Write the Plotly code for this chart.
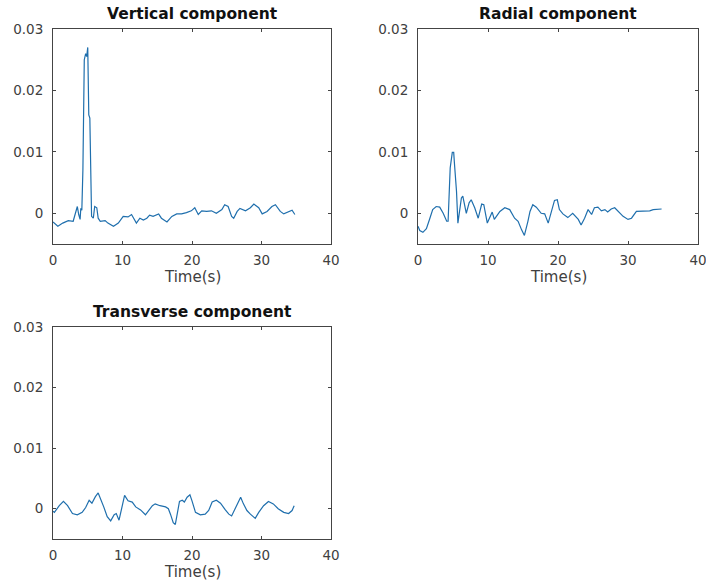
import plotly.graph_objects as go

# ---------------- data ----------------
vert_t = [0.0, 0.7, 1.4, 2.2, 2.9, 3.3, 3.5, 3.7, 3.9, 4.0, 4.15, 4.3, 4.4, 4.5, 4.7, 4.85, 5.0,
          5.15, 5.3, 5.4, 5.55, 5.8, 6.0, 6.3, 6.5, 6.8, 7.5, 7.9, 8.7, 9.4, 10.1, 10.8, 11.3,
          12.0, 12.5, 13.0, 13.5, 13.9, 14.4, 15.2, 15.6, 16.4, 17.1, 17.8, 18.5, 19.2, 19.9,
          20.4, 20.9, 21.4, 22.1, 22.8, 23.5, 24.3, 24.7, 25.2, 25.7, 26.0, 26.5, 26.9, 27.7,
          28.4, 28.9, 29.6, 30.1, 30.8, 31.5, 32.0, 32.7, 33.2, 33.9, 34.4, 34.8]
vert_v = [-0.0014, -0.0021, -0.0016, -0.0012, -0.0013, 0.0002, 0.0011, -0.0002, -0.0010, 0.0008,
          0.0005, 0.007, 0.018, 0.025, 0.026, 0.0255, 0.027, 0.016, 0.0155, 0.005, -0.0005,
          -0.0008, 0.0011, 0.0009, -0.0008, -0.0013, -0.0012, -0.0016, -0.0021, -0.0016, -0.0005,
          -0.0006, -0.0002, -0.0016, -0.0008, -0.0011, -0.0008, -0.0003, -0.0005, -0.0001,
          -0.0008, -0.0014, -0.0005, -0.0001, -0.0001, 0.0001, 0.0004, 0.0009, -0.0002, 0.0004,
          0.0003, 0.0004, 0.0000, 0.0006, 0.0014, 0.0011, -0.0005, -0.0008, 0.0003, 0.0008,
          0.0004, 0.0009, 0.0015, 0.0009, -0.0001, 0.0003, 0.0011, 0.0014, 0.0003, -0.0001,
          0.0002, 0.0005, -0.0002]

rad_t = [0.0, 0.25, 0.7, 1.2, 1.7, 2.1, 2.6, 3.1, 3.6, 4.1, 4.3, 4.4, 4.6, 4.9, 5.1, 5.2, 5.5,
         5.7, 5.9, 6.2, 6.4, 6.7, 6.9, 7.3, 7.6, 8.1, 8.6, 9.1, 9.4, 9.9, 10.2, 10.6, 10.9, 11.7,
         12.4, 13.1, 13.8, 14.3, 14.8, 15.2, 15.7, 16.0, 16.4, 16.9, 17.6, 18.1, 18.6, 19.1,
         19.5, 19.9, 20.2, 20.7, 21.4, 22.1, 22.9, 23.3, 23.8, 24.3, 24.8, 25.2, 25.7, 26.2,
         26.7, 27.1, 27.6, 28.1, 28.6, 29.3, 30.0, 30.5, 31.2, 32.1, 33.1, 33.6, 34.3, 34.8]
rad_v = [-0.0021, -0.0028, -0.0031, -0.0025, -0.0008, 0.0006, 0.0011, 0.0010, 0.0000, -0.0013,
         -0.0013, 0.0020, 0.0074, 0.0099, 0.0099, 0.0082, 0.0036, -0.0016, -0.0002, 0.0025,
         0.0028, 0.0010, 0.0000, 0.0017, 0.0022, 0.0009, -0.0008, 0.0015, 0.0014, -0.0016,
         -0.0008, 0.0002, -0.0010, 0.0003, 0.0009, 0.0006, -0.0008, -0.0013, -0.0027, -0.0036,
         -0.0013, 0.0003, 0.0014, 0.0010, 0.0000, -0.0001, -0.0016, 0.0003, 0.0021, 0.0022,
         0.0006, -0.0001, -0.0007, 0.0000, -0.0010, -0.0019, -0.0008, 0.0006, -0.0002, 0.0009,
         0.0010, 0.0004, 0.0006, 0.0002, 0.0007, 0.0009, 0.0003, -0.0005, -0.0010, -0.0008,
         0.0003, 0.0004, 0.0004, 0.0006, 0.0007, 0.0007]

trans_t = [0.0, 0.2, 0.9, 1.5, 2.1, 2.8, 3.5, 4.2, 4.7, 5.2, 5.6, 6.1, 6.5, 6.8, 7.3, 7.8, 8.3,
           8.8, 9.1, 9.5, 9.9, 10.3, 10.8, 11.4, 11.9, 12.6, 13.3, 13.8, 14.3, 14.7, 15.4, 16.2,
           16.6, 16.9, 17.3, 17.6, 17.8, 18.2, 18.6, 18.9, 19.3, 19.7, 20.0, 20.5, 21.2, 21.9,
           22.4, 22.9, 23.5, 24.1, 24.8, 25.3, 25.7, 26.2, 26.7, 27.0, 27.4, 27.9, 28.4, 29.1,
           29.6, 30.3, 31.0, 31.7, 32.4, 33.2, 33.9, 34.4, 34.7]
trans_v = [-0.0004, -0.0006, 0.0005, 0.0012, 0.0005, -0.0008, -0.0010, -0.0006, 0.0002, 0.0014,
           0.0009, 0.0020, 0.0026, 0.0016, 0.0003, -0.0013, -0.0020, -0.0010, -0.0008, -0.0019,
           0.0000, 0.0022, 0.0013, 0.0011, 0.0003, -0.0002, -0.0010, -0.0002, 0.0005, 0.0008,
           0.0005, 0.0003, 0.0000, -0.0009, -0.0023, -0.0026, -0.0014, 0.0012, 0.0014, 0.0011,
           0.0019, 0.0023, 0.0013, -0.0006, -0.0010, -0.0009, -0.0003, 0.0011, 0.0014, 0.0009,
           -0.0002, -0.0009, -0.0012, 0.0000, 0.0013, 0.0019, 0.0008, -0.0003, -0.0009, -0.0016,
           -0.0006, 0.0005, 0.0012, 0.0008, 0.0000, -0.0006, -0.0008, -0.0003, 0.0005]

titles = ["Vertical component", "Radial component", "Transverse component"]
x_label = "Time(s)"
x_ticks = [0, 10, 20, 30, 40]
y_ticks = [0, 0.01, 0.02, 0.03]
y_tick_text = ["0", "0.01", "0.02", "0.03"]

# ---------------- figure ----------------
W, H = 706, 585
line_color = "#1f6fad"
axis_color = "#444444"
font_family = "DejaVu Sans"

# axes boxes in pixels: (left, right, top, bottom)
boxes = [(53, 331, 29, 244), (418, 698, 29, 244), (53, 331, 327, 539)]
series = [(vert_t, vert_v), (rad_t, rad_v), (trans_t, trans_v)]

fig = go.Figure()
annotations = []
for i, ((l, r, t, b), (xs, ys), title) in enumerate(zip(boxes, series, titles)):
    n = "" if i == 0 else str(i + 1)
    fig.add_trace(go.Scatter(x=xs, y=ys, mode="lines",
                             line=dict(color=line_color, width=1.2),
                             xaxis="x" + n, yaxis="y" + n, showlegend=False))
    common = dict(showline=True, linecolor=axis_color, linewidth=1, mirror="ticks",
                  ticks="inside", ticklen=3, tickcolor=axis_color, showgrid=False,
                  zeroline=False, automargin=False, ticklabeloverflow="allow",
                  tickfont=dict(family=font_family, size=13.5, color="#404040"),
                  fixedrange=True)
    fig.update_layout(**{
        "xaxis" + n: dict(domain=[l / W, r / W], range=[0, 40], tickvals=x_ticks,
                          anchor="y" + n, ticklabelstandoff=4, **common),
        "yaxis" + n: dict(domain=[1 - b / H, 1 - t / H], range=[-0.005, 0.03],
                          tickvals=y_ticks, ticktext=y_tick_text, anchor="x" + n,
                          ticklabelstandoff=6, **common),
    })
    cx = (l + r) / 2 / W
    annotations.append(dict(text="<b>" + title + "</b>", x=cx, y=1 - (t - 15) / H,
                            xref="paper", yref="paper", showarrow=False,
                            xanchor="center", yanchor="middle",
                            font=dict(family=font_family, size=15.5, color="#111111")))
    annotations.append(dict(text=x_label, x=cx, y=1 - (b + 33) / H,
                            xref="paper", yref="paper", showarrow=False,
                            xanchor="center", yanchor="middle",
                            font=dict(family=font_family, size=15, color="#404040")))

fig.update_layout(width=W, height=H, margin=dict(l=0, r=0, t=0, b=0),
                  paper_bgcolor="white", plot_bgcolor="white",
                  annotations=annotations)

fig.write_html("out.html")
